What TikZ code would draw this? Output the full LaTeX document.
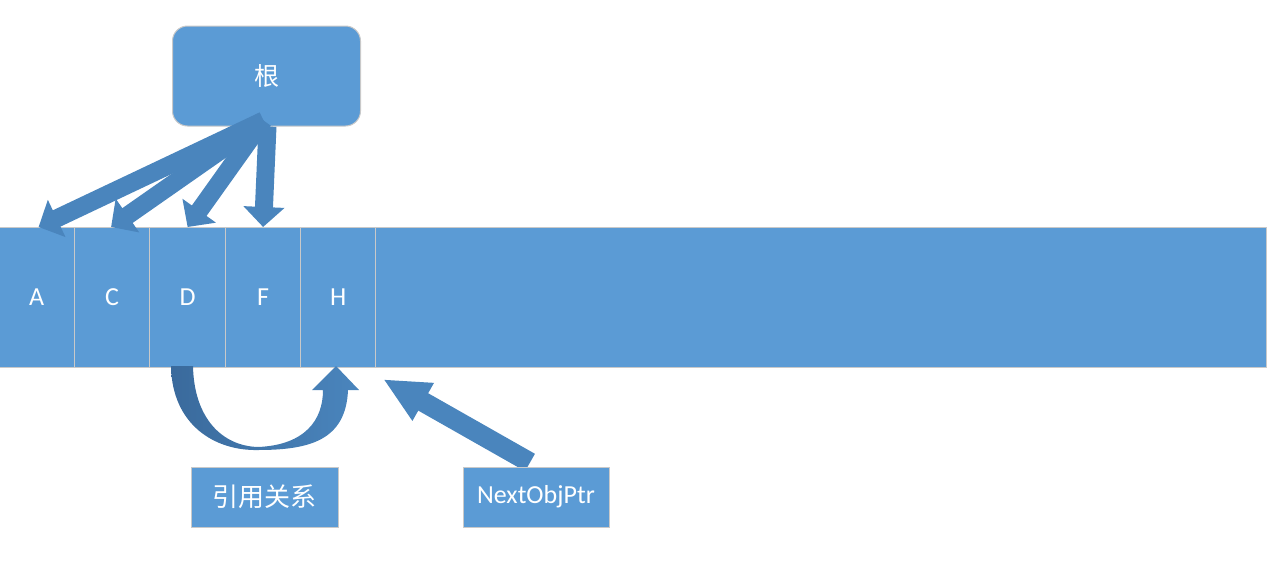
\documentclass[tikz,border=0pt]{standalone}
\usepackage{fontspec}
\setmainfont{Carlito}
\newfontfamily\cjk{Noto Sans CJK SC}
\usetikzlibrary{arrows.meta,calc,backgrounds}
\definecolor{boxblue}{HTML}{5B9BD5}
\definecolor{arrowblue}{HTML}{4A85BD}
\definecolor{darkblue}{HTML}{3A6A9C}
\definecolor{edgegray}{HTML}{C9C9C9}
\begin{document}
\begin{tikzpicture}[x=1pt,y=-1pt,
  cell/.style={fill=boxblue, draw=edgegray, line width=1.2pt, text=white,
    minimum height=140pt, anchor=north west, inner sep=0pt,
    font=\fontsize{26}{30}\selectfont},
  labelbox/.style={fill=boxblue, draw=edgegray, line width=1pt, text=white,
    minimum height=60pt, inner sep=0pt},
  rootarrow/.style={draw=arrowblue, line width=18pt,
    -{Triangle[length=20pt,width=40pt]}},
  nextarrow/.style={draw=arrowblue, line width=20pt,
    -{Triangle[length=46pt,width=40pt]}}]
\useasboundingbox (0,0) rectangle (1277,560);
% root
\node[rounded corners=15pt, fill=boxblue, draw=edgegray, line width=1pt,
  minimum width=188pt, minimum height=100pt, inner sep=0pt, text=white,
  font=\cjk\fontsize{25}{30}\selectfont] (root) at (266.5,76) {根};
% strip
\node[cell, minimum width=76pt] (cA) at (-2,227) {A};
\node[cell, minimum width=75pt] (cC) at (74,227) {C};
\node[cell, minimum width=76pt] (cD) at (149,227) {D};
\node[cell, minimum width=75pt] (cF) at (225,227) {F};
\node[cell, minimum width=75pt] (cH) at (300,227) {H};
\node[cell, minimum width=891pt] (rest) at (375,227) {};
% root arrows
\draw[rootarrow] ([xshift=-3pt,yshift=6pt]root.south) -- ([xshift=2pt]cA.north);
\draw[rootarrow] ([xshift=-3pt,yshift=6pt]root.south) -- ([xshift=-1pt]cC.north);
\draw[rootarrow] ([xshift=-3pt,yshift=6pt]root.south) -- (cD.north);
\draw[rootarrow] ([xshift=1pt]root.south) -- (cF.north);
% curved arrow D -> H
\shade[left color=darkblue, right color=arrowblue]
  (171,366) .. controls (172,425) and (215,451) .. (258,450)
  .. controls (310,450) and (346,440) .. (348,390)
  -- (359,390) -- (336,366) -- (312,390) -- (323,390)
  .. controls (323,420) and (305,445) .. (258,447)
  .. controls (222,446) and (194,418) .. (193,366) -- cycle;
% label boxes
\node[labelbox, minimum width=147pt, font=\cjk\fontsize{26}{30}\selectfont] (rel) at (264.5,497) {引用关系};
\node[labelbox, minimum width=146pt, font=\fontsize{26}{30}\selectfont] (nbox) at (536,497) {NextObjPtr};
% NextObjPtr arrow
\begin{scope}[on background layer]
\draw[nextarrow] ([xshift=-6pt,yshift=4pt]nbox.north) -- ([xshift=7pt,yshift=-11pt]cH.south east);
\end{scope}
\end{tikzpicture}
\end{document}
